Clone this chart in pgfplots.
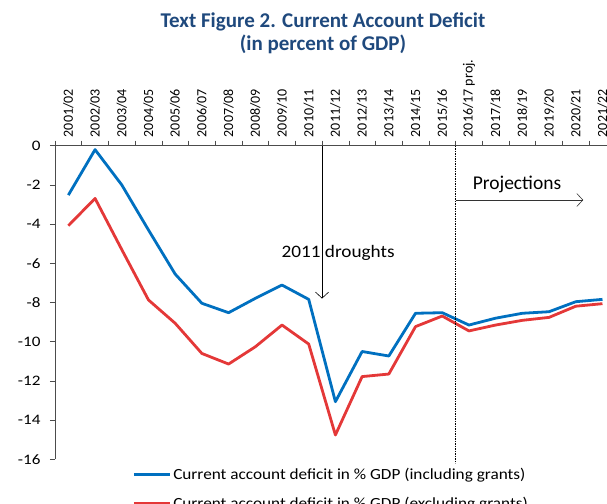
\documentclass[border=0pt]{standalone}
\usepackage{pgfplots}
\pgfplotsset{compat=1.18}
\usepackage{pgfplotstable}
\usepackage{graphicx}
\usepackage{fontspec}
\setmainfont{Carlito}
\usetikzlibrary{arrows.meta}
\definecolor{cablue}{RGB}{0,112,192}
\definecolor{cared}{RGB}{228,56,56}
\definecolor{titleblue}{RGB}{31,73,125}
\newcommand{\sx}[1]{\scalebox{1.18}[1]{#1}}

\pgfplotstableread{
x incl excl
0 -2.52 -4.08
1 -0.2 -2.69
2 -2.0 -5.30
3 -4.3 -7.87
4 -6.55 -9.06
5 -8.04 -10.60
6 -8.52 -11.14
7 -7.79 -10.26
8 -7.11 -9.15
9 -7.84 -10.12
10 -13.06 -14.76
11 -10.50 -11.78
12 -10.73 -11.65
13 -8.55 -9.23
14 -8.52 -8.69
15 -9.15 -9.45
16 -8.80 -9.15
17 -8.55 -8.91
18 -8.47 -8.76
19 -7.96 -8.19
20 -7.84 -8.06
}\cadata

\begin{document}
\begin{tikzpicture}
\begin{axis}[
 at={(0,0)}, anchor=south west,
 scale only axis, width=552pt, height=313.6pt,
 xmin=-0.5, xmax=20.17, ymin=-16, ymax=0,
 clip=false,
 axis x line*=top, axis y line*=left,
 axis line style={black!70, line width=0.6pt},
 tick align=outside,
 xtick={0,...,20},
 xticklabels={2001/02,2002/03,2003/04,2004/05,2005/06,2006/07,2007/08,2008/09,2009/10,2010/11,2011/12,2012/13,2013/14,2014/15,2015/16,2016/17 proj.,2017/18,2018/19,2019/20,2020/21,2021/22},
 x tick label style={rotate=90, anchor=west, font=\fontsize{14}{16}\selectfont},
 major x tick style={draw=none},
 minor xtick={-0.5,0.5,...,19.5},
 minor x tick style={black!70, line width=0.5pt},
 minor tick length=5pt,
 ytick={0,-2,...,-16},
 yticklabel={\sx{\pgfmathprintnumber{\tick}}},
 y tick label style={font=\fontsize{14.5}{16}\selectfont, xshift=-6pt},
 major y tick style={black!70, line width=0.5pt},
 major tick length=5pt,
 /pgf/number format/assume math mode=true,
 legend style={at={(0.14,-0.02)}, anchor=north west, draw=none, fill=none,
   font=\fontsize{15.5}{17}\selectfont, row sep=12.5pt, inner sep=0pt},
 legend cell align=left,
 legend image code/.code={\draw[#1] (0pt,0pt) -- (36pt,0pt);},
]
\addplot[cablue, line width=2.8pt, line join=round] table[x=x, y=incl] {\cadata};
\addlegendentry{\scalebox{1.11}[1]{Current account deficit in \% GDP (including grants)}}
\addplot[cared, line width=2.8pt, line join=round] table[x=x, y=excl] {\cadata};
\addlegendentry{\scalebox{1.11}[1]{Current account deficit in \% GDP (excluding grants)}}

\draw[black, line width=0.6pt, -{Straight Barb[length=6pt, width=13pt]}] (axis cs:9.5,0) -- (axis cs:9.5,-7.8);
\node[font=\fontsize{17.5}{20}\selectfont, anchor=base] at (axis cs:10.1,-5.71) {\scalebox{1.1}[1]{2011 droughts}};
\draw[black, line width=0.7pt, dash pattern=on 1.5pt off 1pt] (axis cs:14.5,0) -- (axis cs:14.5,-16.2);
\draw[black!80, line width=0.6pt, -{Straight Barb[length=6pt, width=13pt]}] (axis cs:14.5,-2.77) -- (axis cs:19.28,-2.77);
\node[font=\fontsize{19.5}{22}\selectfont, anchor=base] at (axis cs:16.8,-2.22) {Projections};
\end{axis}
\node[font=\bfseries\fontsize{21}{24}\selectfont, text=titleblue, anchor=base] at (268pt,431.3pt) {Text Figure 2. Current Account Deficit};
\node[font=\bfseries\fontsize{21}{24}\selectfont, text=titleblue, anchor=base] at (268pt,408.3pt) {(in percent of GDP)};
\pgfresetboundingbox
\path (-55pt,-43.7pt) rectangle (552pt,459.3pt);
\end{tikzpicture}
\end{document}
